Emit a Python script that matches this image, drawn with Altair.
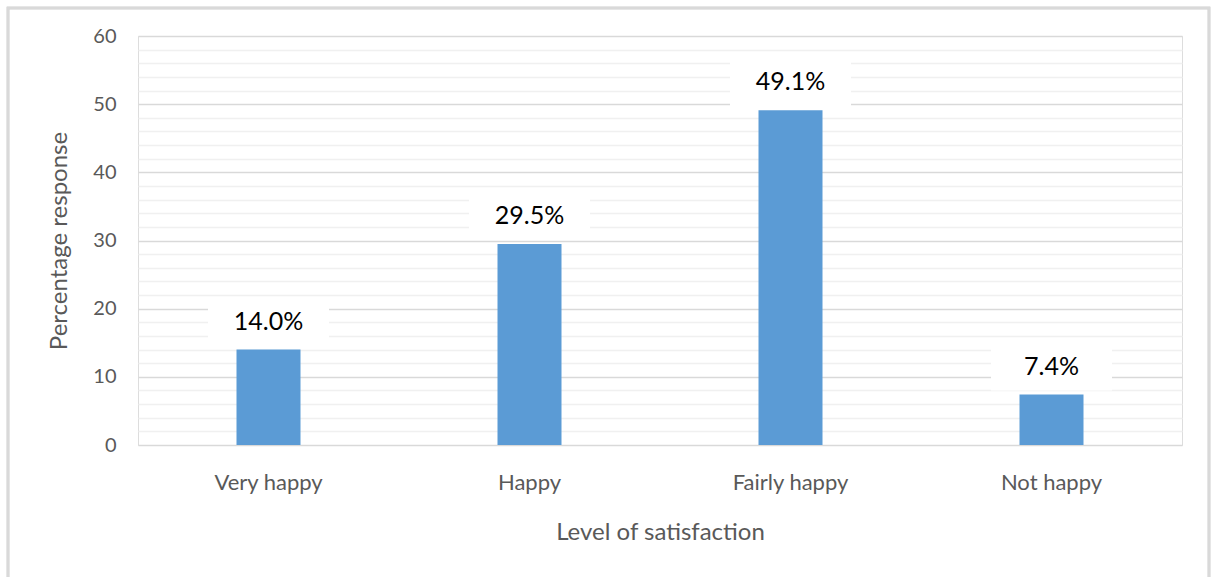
import altair as alt
import pandas as pd

# Survey: level of satisfaction, percentage of responses
levels = ["Very happy", "Happy", "Fairly happy", "Not happy"]
percent = [14.0, 29.5, 49.1, 7.4]
percent_labels = ["14.0%", "29.5%", "49.1%", "7.4%"]
y_grid_values = list(range(0, 61, 2))

df = pd.DataFrame({"level": levels, "pct": percent, "label": percent_labels})

FONT = "Lato"
BAR_BLUE = "#5b9bd5"
AXIS_GRAY = "#595959"

x_enc = alt.X(
    "level:N",
    sort=levels,
    scale=alt.Scale(paddingInner=0, paddingOuter=0),
    axis=alt.Axis(
        title="Level of satisfaction",
        labelAngle=0,
        labelFont=FONT,
        labelFontSize=22,
        labelColor=AXIS_GRAY,
        labelPadding=27,
        titleFont=FONT,
        titleFontSize=24,
        titleFontWeight="normal",
        titleColor=AXIS_GRAY,
        titlePadding=27,
        domain=False,
        ticks=False,
        grid=False,
    ),
)

y_scale = alt.Scale(domain=[0, 60], nice=False)

bars = alt.Chart(df).mark_bar(size=64, color=BAR_BLUE).encode(
    x=x_enc,
    y=alt.Y(
        "pct:Q",
        scale=y_scale,
        axis=alt.Axis(
            title="Percentage response",
            values=y_grid_values,
            tickCount=len(y_grid_values),
            labelExpr="datum.value % 10 === 0 ? datum.label : ''",
            labelOverlap=False,
            labelFont=FONT,
            labelFontSize=20,
            labelColor=AXIS_GRAY,
            labelPadding=22,
            titleFont=FONT,
            titleFontSize=24,
            titleFontWeight="normal",
            titleColor=AXIS_GRAY,
            titlePadding=21,
            domain=False,
            ticks=False,
            grid=True,
            gridColor={
                "condition": {"test": "datum.value % 10 === 0", "value": "#d9d9d9"},
                "value": "#f0f0f0",
            },
            gridWidth=1.5,
        ),
    ),
)

# white boxes behind the value labels
label_boxes = alt.Chart(df).mark_bar(
    width=121, color="white", yOffset=-4, y2Offset=-52
).encode(
    x=alt.X("level:N", sort=levels),
    y=alt.Y("pct:Q", scale=y_scale),
    y2="pct:Q",
)

label_text = alt.Chart(df).mark_text(
    font=FONT, fontSize=25, color="black", baseline="middle", dy=-28
).encode(
    x=alt.X("level:N", sort=levels),
    y=alt.Y("pct:Q", scale=y_scale),
    text="label:N",
)

# outer chart frame
frame = alt.Chart(df).mark_rect(
    fill="transparent", stroke="#d9d9d9", strokeWidth=2.5, clip=False
).encode(
    x=alt.value(-130),
    x2=alt.value(1071),
    y=alt.value(-28),
    y2=alt.value(560),
)

chart = (
    alt.layer(bars, label_boxes, label_text, frame)
    .properties(
        width=1044,
        height=409,
        padding={"left": 138, "top": 36, "right": 33, "bottom": 132},
        autosize=alt.AutoSizeParams(type="none"),
    )
    .configure_view(stroke="transparent", strokeWidth=0)
    .configure(background="white")
)

chart.save("out.html", embed_options={"renderer": "svg", "actions": False})
